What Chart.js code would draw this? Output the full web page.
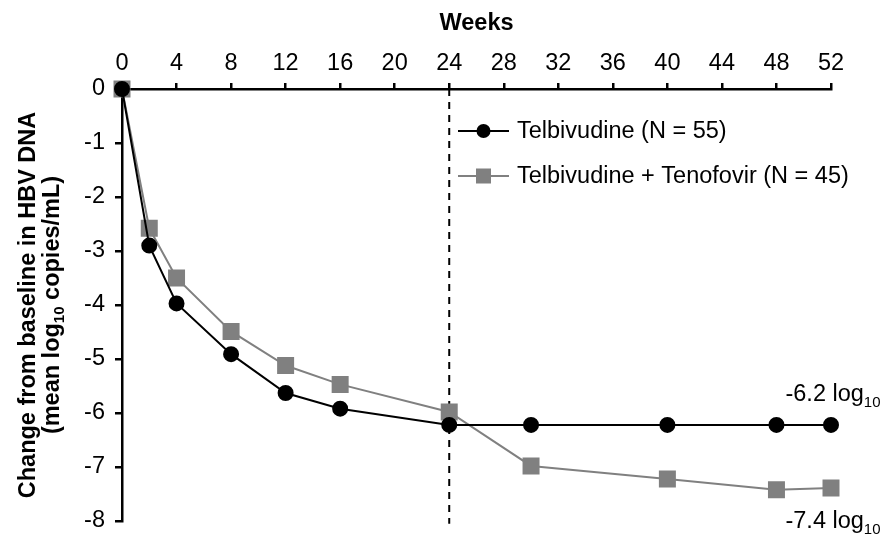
<!DOCTYPE html>
<html>
<head>
<meta charset="utf-8">
<script src="https://cdn.jsdelivr.net/npm/chart.js@4/dist/chart.umd.min.js"></script>
<style>
html,body{margin:0;padding:0;background:#fff;}
#wrap{width:883px;height:539px;position:relative;}
</style>
</head>
<body>
<div id="wrap"><canvas id="c"></canvas></div>
<script>
// ---- data ----
const weeks = [0, 2, 4, 8, 12, 16, 24, 30, 40, 48, 52];
const telbivudine = [0, -2.9, -3.97, -4.91, -5.63, -5.92, -6.22, -6.22, -6.22, -6.22, -6.22];
const combination = [0, -2.58, -3.5, -4.49, -5.12, -5.47, -5.98, -6.98, -7.22, -7.42, -7.39];
const seriesNames = ['Telbivudine (N = 55)', 'Telbivudine + Tenofovir (N = 45)'];
const endLabels = ['-6.2', '-7.4'];
const dividerWeek = 24;
const xTitle = 'Weeks';
const yTitle1 = 'Change from baseline in HBV DNA';
const yTitle2 = ['(mean log', '10', ' copies/mL)'];

const FONT = '"Liberation Sans", Arial, sans-serif';
const FS = 23.5;
const SUB = 15;
const GREY = '#808080';

const toPts = (ys) => weeks.map((w, i) => ({x: w, y: ys[i]}));

const overlay = {
  id: 'overlay',
  afterDraw(chart) {
    const ctx = chart.ctx;
    const xs = chart.scales.x, ys = chart.scales.y;
    const area = chart.chartArea;
    ctx.save();
    // y title with subscript
    ctx.fillStyle = '#000';
    ctx.translate(0, (area.top + area.bottom) / 2);
    ctx.rotate(-Math.PI / 2);
    ctx.textAlign = 'center';
    ctx.textBaseline = 'alphabetic';
    const big = 'bold ' + FS + 'px ' + FONT, small = 'bold ' + SUB + 'px ' + FONT;
    ctx.font = big;
    ctx.fillText(yTitle1, 0, 35);
    ctx.font = big; const w0 = ctx.measureText(yTitle2[0]).width;
    ctx.font = small; const w1 = ctx.measureText(yTitle2[1]).width;
    ctx.font = big; const w2 = ctx.measureText(yTitle2[2]).width;
    let sx = -(w0 + w1 + w2) / 2;
    ctx.textAlign = 'left';
    ctx.font = big; ctx.fillText(yTitle2[0], sx, 59);
    ctx.font = small; ctx.fillText(yTitle2[1], sx + w0, 64);
    ctx.font = big; ctx.fillText(yTitle2[2], sx + w0 + w1, 59);
    ctx.restore();

    // legend
    ctx.save();
    const items = [
      {name: seriesNames[0], color: '#000', style: 'circle', y: 131},
      {name: seriesNames[1], color: GREY, style: 'rect', y: 176}
    ];
    items.forEach(it => {
      ctx.strokeStyle = it.color; ctx.lineWidth = 2;
      ctx.beginPath(); ctx.moveTo(458, it.y); ctx.lineTo(509, it.y); ctx.stroke();
      ctx.fillStyle = it.color;
      if (it.style === 'circle') {
        ctx.beginPath(); ctx.arc(483.5, it.y, 7, 0, Math.PI * 2); ctx.fill();
      } else {
        ctx.fillRect(476, it.y - 7.5, 15, 15);
      }
      ctx.fillStyle = '#000';
      ctx.font = FS + 'px ' + FONT;
      ctx.textAlign = 'left'; ctx.textBaseline = 'middle';
      ctx.fillText(it.name, 517, it.y + 1);
    });
    ctx.restore();

    // end labels
    ctx.save();
    ctx.fillStyle = '#000';
    const last = weeks.length - 1;
    const px = xs.getPixelForValue(weeks[last]);
    const ends = [
      {txt: endLabels[0], y: ys.getPixelForValue(telbivudine[last]) - 24},
      {txt: endLabels[1], y: ys.getPixelForValue(combination[last]) + 40}
    ];
    ends.forEach(e => {
      ctx.font = FS + 'px ' + FONT;
      const main = e.txt + ' log';
      const wm = ctx.measureText(main).width;
      ctx.font = SUB + 'px ' + FONT;
      const ws = ctx.measureText('10').width;
      const start = px + 2 - (wm + ws) / 2;
      ctx.textAlign = 'left'; ctx.textBaseline = 'alphabetic';
      ctx.font = FS + 'px ' + FONT; ctx.fillText(main, start, e.y);
      ctx.font = SUB + 'px ' + FONT; ctx.fillText('10', start + wm, e.y + 6);
    });
    ctx.restore();
  }
};

new Chart(document.getElementById('c'), {
  type: 'line',
  data: {
    datasets: [
      {
        label: seriesNames[0], data: toPts(telbivudine),
        borderColor: '#000', backgroundColor: '#000', borderWidth: 2,
        pointStyle: 'circle', pointRadius: 7, pointHoverRadius: 7, clip: false, order: 1
      },
      {
        label: seriesNames[1], data: toPts(combination),
        borderColor: GREY, backgroundColor: GREY, borderWidth: 2,
        pointStyle: 'rect', pointRadius: 10.6, pointHoverRadius: 10.6, clip: false, order: 2
      },
      {
        label: 'divider', data: [{x: dividerWeek, y: 0}, {x: dividerWeek, y: -8.05}],
        borderColor: '#000', borderWidth: 2, borderDash: [7, 6], pointRadius: 0, clip: false, order: 3
      }
    ]
  },
  options: {
    responsive: true, maintainAspectRatio: false, animation: false,
    layout: {padding: {left: 0, right: 52, top: 0, bottom: 18}},
    plugins: {legend: {display: false}, tooltip: {enabled: false}},
    scales: {
      x: {
        type: 'linear', position: 'top', min: 0, max: 52,
        ticks: {stepSize: 4, color: '#000', font: {family: FONT, size: FS}, padding: 5, maxRotation: 0},
        grid: {display: true, drawOnChartArea: false, drawTicks: true, tickLength: 6, color: '#000', lineWidth: 2.5},
        border: {display: true, color: '#000', width: 2.5},
        title: {display: true, text: xTitle, color: '#000', font: {family: FONT, size: FS, weight: 'bold'}, padding: {top: 9, bottom: 0}},
        afterFit(s) { s.height = 89; s.paddingLeft = 0; s.paddingRight = 0; }
      },
      y: {
        type: 'linear', min: -8, max: 0,
        ticks: {stepSize: 1, color: '#000', font: {family: FONT, size: FS}, padding: 10},
        grid: {display: true, drawOnChartArea: false, drawTicks: true, tickLength: 7, color: '#000', lineWidth: 2.5},
        border: {display: true, color: '#000', width: 2.5},
        afterFit(s) { s.width = 122; s.paddingTop = 0; s.paddingBottom = 0; }
      }
    }
  },
  plugins: [overlay]
});
</script>
</body>
</html>
